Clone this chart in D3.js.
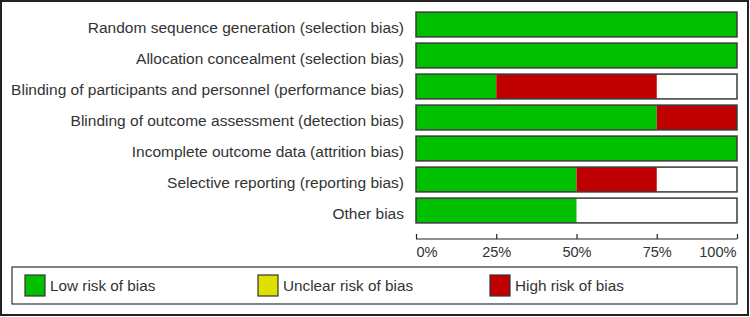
<!DOCTYPE html>
<html><head><meta charset="utf-8">
<script src="https://cdn.jsdelivr.net/npm/d3@7"></script>
<style>body{margin:0;background:#fff}svg{display:block}</style>
</head><body>
<svg id="c" width="750" height="317"></svg>
<script>
const categories = [
  "Random sequence generation (selection bias)",
  "Allocation concealment (selection bias)",
  "Blinding of participants and personnel (performance bias)",
  "Blinding of outcome assessment (detection bias)",
  "Incomplete outcome data (attrition bias)",
  "Selective reporting (reporting bias)",
  "Other bias"
];
const lowRisk = [100, 100, 25, 75, 100, 50, 50];
const unclearRisk = [0, 0, 0, 0, 0, 0, 0];
const highRisk = [0, 0, 50, 25, 0, 25, 0];
const tickValues = [0, 25, 50, 75, 100];
const tickLabels = ["0%", "25%", "50%", "75%", "100%"];
const legendLabels = ["Low risk of bias", "Unclear risk of bias", "High risk of bias"];
const colors = ["#00C000", "#E0E000", "#C00000"];

const svg = d3.select("#c");
const font = "'Liberation Sans', Arial, sans-serif";
svg.append("rect").attr("x",1).attr("y",1).attr("width",747).attr("height",314)
  .attr("fill","#fff").attr("stroke","#222").attr("stroke-width",2);

const x = d3.scaleLinear().domain([0,100]).range([416,737]);
const y = d3.scaleBand().domain(categories).range([9,226]).paddingInner(0.2).paddingOuter(0.1);

const series = [lowRisk, unclearRisk, highRisk];
categories.forEach((c,i)=>{
  let acc = 0;
  const g = svg.append("g");
  series.forEach((s,k)=>{
    const v = s[i];
    if (v>0) {
      g.append("rect").attr("x",x(acc)).attr("y",y(c)).attr("width",x(acc+v)-x(acc))
        .attr("height",y.bandwidth()).attr("fill",colors[k]);
    }
    acc += v;
  });
  g.append("rect").attr("x",x(0)).attr("y",y(c)).attr("width",x(100)-x(0))
    .attr("height",y.bandwidth()).attr("fill","none").attr("stroke","#3a3a3a").attr("stroke-width",1.5);
  svg.append("text").attr("x",404).attr("y",y(c)+y.bandwidth()/2+8)
    .attr("text-anchor","end").attr("font-family",font).attr("font-size",15.5).attr("fill","#333")
    .text(c);
});

const axis = d3.axisBottom(x).tickValues(tickValues).tickSize(-5).tickFormat((d,i)=>tickLabels[i]);
const ag = svg.append("g").attr("transform","translate(0,239)").call(axis);
ag.select(".domain").attr("stroke","#222").attr("stroke-width",1.2).attr("d","M416,0H737");
ag.selectAll(".tick line").attr("stroke","#222").attr("stroke-width",1.2);
ag.selectAll(".tick text").attr("y",18).attr("dy",null).attr("font-family",font).attr("font-size",14.6).attr("fill","#333")
  .attr("text-anchor",(d,i)=> i===0 ? "start" : (i===tickValues.length-1 ? "end" : "middle"))
  .attr("dx",(d,i)=> i===0 ? 0 : (i===tickValues.length-1 ? -1 : 0));

svg.append("rect").attr("x",12).attr("y",267).attr("width",725).attr("height",37)
  .attr("fill","none").attr("stroke","#333").attr("stroke-width",1.2);
const legX = [25, 258, 490];
legendLabels.forEach((l,i)=>{
  svg.append("rect").attr("x",legX[i]).attr("y",275).attr("width",20).attr("height",21)
    .attr("fill",colors[i]).attr("stroke","#333").attr("stroke-width",1.2);
  svg.append("text").attr("x",legX[i]+25).attr("y",291)
    .attr("font-family",font).attr("font-size",15.3).attr("fill","#333").text(l);
});
</script>
</body></html>
